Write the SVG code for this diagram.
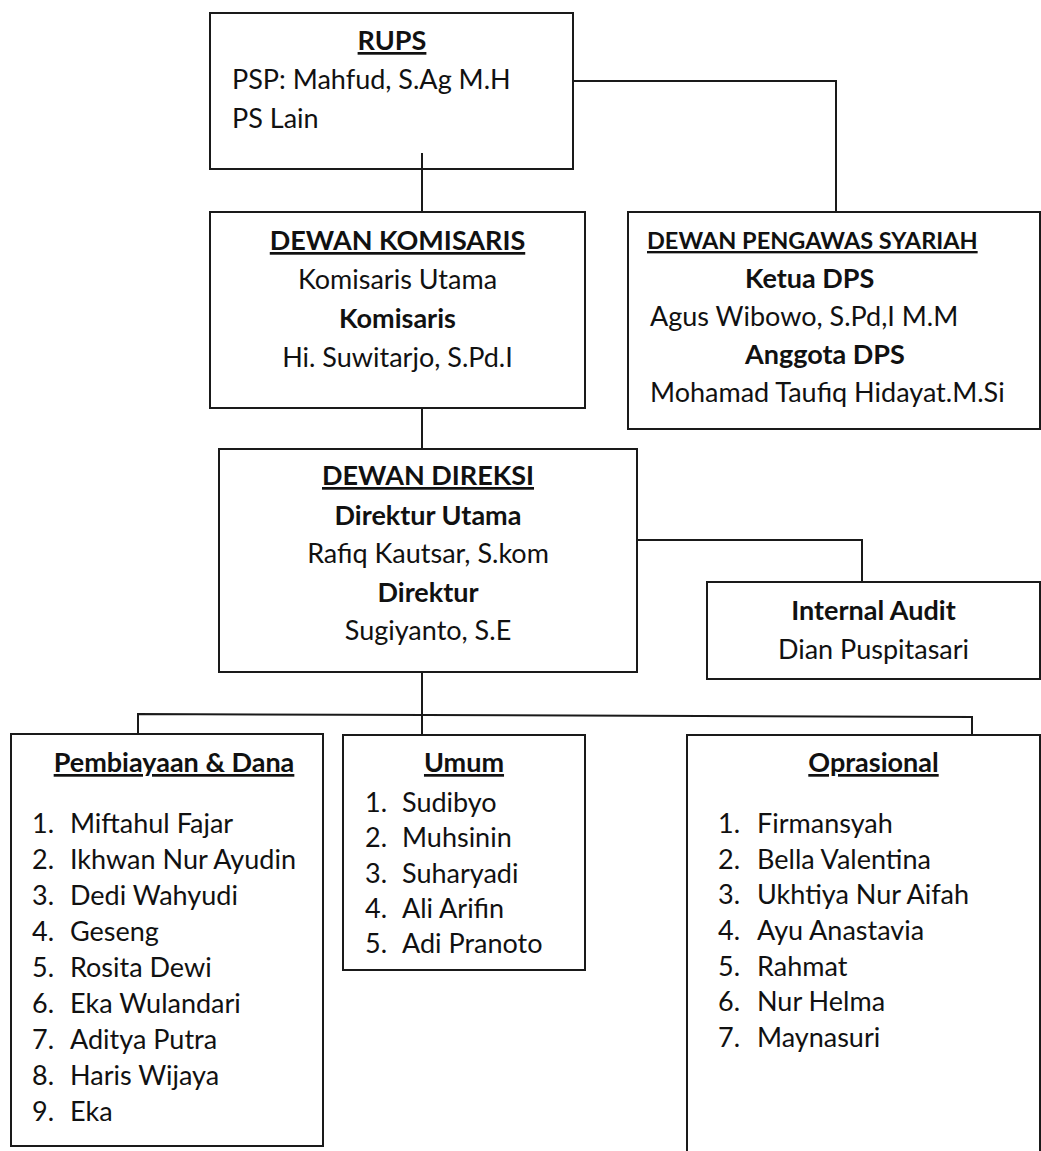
<svg xmlns="http://www.w3.org/2000/svg" width="1041" height="1151" viewBox="0 0 1041 1151">
<style>
.box{fill:#fff;stroke:#1a1a1a;stroke-width:2}
.con{fill:none;stroke:#1a1a1a;stroke-width:2}
text{font-family:Lato,"Liberation Sans",sans-serif;font-size:27px;fill:#111}
.b{font-weight:bold}
.u{text-decoration:underline}
.m{text-anchor:middle}
.s{font-size:23.5px}
</style>
<rect width="1041" height="1151" fill="#fff"/>
<g id="rups">
<rect class="box" x="210" y="13" width="363" height="156"/>
<text class="b u m" x="392" y="50">RUPS</text>
<text x="232" y="89">PSP: Mahfud, S.Ag M.H</text>
<text x="232" y="128">PS Lain</text>
</g>
<g id="komisaris">
<rect class="box" x="210" y="212" width="375" height="196"/>
<text class="b u m" x="397.5" y="250">DEWAN KOMISARIS</text>
<text class="m" x="397.5" y="289">Komisaris Utama</text>
<text class="b m" x="397.5" y="328">Komisaris</text>
<text class="m" x="397.5" y="367">Hi. Suwitarjo, S.Pd.I</text>
</g>
<g id="dps">
<rect class="box" x="628" y="212" width="412" height="217"/>
<text class="b u s" x="647" y="249">DEWAN PENGAWAS SYARIAH</text>
<text class="b" x="745" y="288">Ketua DPS</text>
<text x="650" y="326">Agus Wibowo, S.Pd,I M.M</text>
<text class="b" x="745" y="364">Anggota DPS</text>
<text x="650" y="402">Mohamad Taufiq Hidayat.M.Si</text>
</g>
<g id="direksi">
<rect class="box" x="219" y="449" width="418" height="223"/>
<text class="b u m" x="428" y="485">DEWAN DIREKSI</text>
<text class="b m" x="428" y="525">Direktur Utama</text>
<text class="m" x="428" y="563">Rafiq Kautsar, S.kom</text>
<text class="b m" x="428" y="602">Direktur</text>
<text class="m" x="428" y="640">Sugiyanto, S.E</text>
</g>
<g id="audit">
<rect class="box" x="707" y="582" width="333" height="97"/>
<text class="b m" x="873.5" y="620">Internal Audit</text>
<text class="m" x="873.5" y="659">Dian Puspitasari</text>
</g>
<g id="pembiayaan">
<rect class="box" x="11" y="734" width="312" height="412"/>
<text class="b u m" x="174" y="772">Pembiayaan &amp; Dana</text>
<text x="32" y="833">1.</text><text x="70" y="833">Miftahul Fajar</text>
<text x="32" y="869">2.</text><text x="70" y="869">Ikhwan Nur Ayudin</text>
<text x="32" y="905">3.</text><text x="70" y="905">Dedi Wahyudi</text>
<text x="32" y="941">4.</text><text x="70" y="941">Geseng</text>
<text x="32" y="977">5.</text><text x="70" y="977">Rosita Dewi</text>
<text x="32" y="1013">6.</text><text x="70" y="1013">Eka Wulandari</text>
<text x="32" y="1049">7.</text><text x="70" y="1049">Aditya Putra</text>
<text x="32" y="1085">8.</text><text x="70" y="1085">Haris Wijaya</text>
<text x="32" y="1121">9.</text><text x="70" y="1121">Eka</text>
</g>
<g id="umum">
<rect class="box" x="343" y="735" width="242" height="235"/>
<text class="b u m" x="464" y="772">Umum</text>
<text x="365" y="812">1.</text><text x="402" y="812">Sudibyo</text>
<text x="365" y="847">2.</text><text x="402" y="847">Muhsinin</text>
<text x="365" y="883">3.</text><text x="402" y="883">Suharyadi</text>
<text x="365" y="918">4.</text><text x="402" y="918">Ali Arifin</text>
<text x="365" y="953">5.</text><text x="402" y="953">Adi Pranoto</text>
</g>
<g id="oprasional">
<rect class="box" x="687" y="735" width="353" height="430"/>
<text class="b u m" x="873.5" y="772">Oprasional</text>
<text x="718" y="833">1.</text><text x="757" y="833">Firmansyah</text>
<text x="718" y="869">2.</text><text x="757" y="869">Bella Valentina</text>
<text x="718" y="904">3.</text><text x="757" y="904">Ukhtiya Nur Aifah</text>
<text x="718" y="940">4.</text><text x="757" y="940">Ayu Anastavia</text>
<text x="718" y="976">5.</text><text x="757" y="976">Rahmat</text>
<text x="718" y="1011">6.</text><text x="757" y="1011">Nur Helma</text>
<text x="718" y="1047">7.</text><text x="757" y="1047">Maynasuri</text>
</g>
<g id="connectors">
<path class="con" d="M422 153V212"/>
<path class="con" d="M573 81H836V212"/>
<path class="con" d="M422 408V449"/>
<path class="con" d="M637 540H862V582"/>
<path class="con" d="M422 672V735"/>
<path class="con" d="M138 734V714L972 717V735"/>
</g>
</svg>
